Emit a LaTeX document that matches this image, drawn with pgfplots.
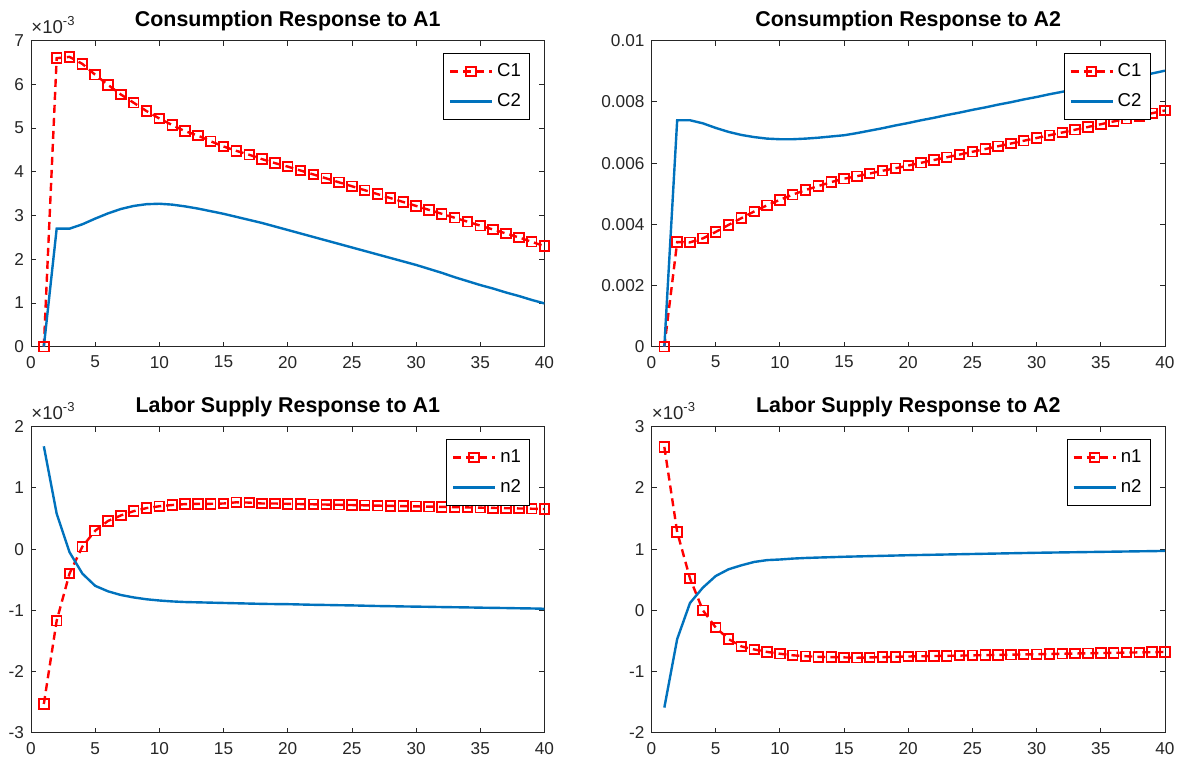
\documentclass[border=0pt]{standalone}
\usepackage{fontspec}
\setmainfont{Liberation Sans}
\usepackage{pgfplots}
\pgfplotsset{compat=1.18}
\definecolor{mblue}{rgb}{0,0.447,0.741}
\definecolor{axgray}{gray}{0.15}
\pgfplotsset{
 mat/.style={
  scale only axis, width=256.75pt, height=153pt,
  xmin=0, xmax=40, xtick={0,5,...,40},
  tick align=inside, major tick length=2.5pt,
  axis line style={axgray, line width=0.4pt},
  every tick/.style={axgray, line width=0.4pt},
  tick label style={font=\fontsize{8.6}{10}\selectfont, text=axgray},
  xticklabel style={yshift=-1.2pt},
  /pgf/number format/assume math mode=true,
  scaled y ticks=false,
  title style={font=\bfseries\fontsize{10.7}{12}\selectfont, at={(0.5,1)}, anchor=south, inner sep=0pt, yshift=-1.3pt},
  legend style={at={(1,1)}, anchor=north east, xshift=-7pt, yshift=-6.2pt, draw=black, line width=0.5pt,
     font=\fontsize{9.3}{11}\selectfont, inner xsep=2.5pt, inner ysep=3pt, row sep=3pt},
  legend cell align=left,
  legend image code/.code={\draw[mark repeat=2,mark phase=2,##1] plot coordinates {(0pt,0pt) (10.5pt,0pt) (21pt,0pt)};},
 },
 sci/.style={extra description/.code={\node[anchor=base west, inner sep=0pt, yshift=3.8pt, font=\fontsize{9.3}{11}\selectfont, text=axgray] at (0,1) {×10\textsuperscript{-3}};}},
 s1/.style={red, line width=1.2pt, dash pattern=on 4pt off 2.5pt, mark=square, mark size=2.4pt, mark options={solid, line width=0.9pt}},
 s2/.style={mblue, line width=1.2pt, no markers},
}
\begin{document}
\begin{tikzpicture}
\useasboundingbox (0,0) rectangle (592.5pt,380.5pt);
% Panel 1
\begin{axis}[mat, sci, at={(15.5pt,207.15pt)}, anchor=south west,
  ymin=0, ymax=7, ytick={0,1,...,7},
  title={Consumption Response to A1}]
\addplot[s1] coordinates {(1,0)(2,6.60)(3,6.63)(4,6.47)(5,6.22)(6,5.99)(7,5.77)(8,5.58)(9,5.39)(10,5.22)
(11,5.07)(12,4.93)(13,4.83)(14,4.70)(15,4.58)(16,4.48)(17,4.39)(18,4.29)(19,4.20)(20,4.12)
(21,4.03)(22,3.94)(23,3.85)(24,3.76)(25,3.67)(26,3.58)(27,3.49)(28,3.40)(29,3.31)(30,3.22)
(31,3.13)(32,3.04)(33,2.95)(34,2.86)(35,2.77)(36,2.68)(37,2.59)(38,2.50)(39,2.40)(40,2.30)};
\addplot[s2] coordinates {(1,0)(2,2.70)(3,2.70)(4,2.80)(5,2.93)(6,3.05)(7,3.15)(8,3.22)(9,3.26)(10,3.27)
(11,3.25)(12,3.21)(13,3.16)(14,3.10)(15,3.04)(16,2.97)(17,2.90)(18,2.83)(19,2.75)(20,2.67)
(21,2.59)(22,2.51)(23,2.43)(24,2.35)(25,2.27)(26,2.19)(27,2.11)(28,2.03)(29,1.95)(30,1.87)
(31,1.78)(32,1.69)(33,1.59)(34,1.50)(35,1.41)(36,1.33)(37,1.24)(38,1.16)(39,1.07)(40,0.99)};
\legend{C1,C2}
\end{axis}
% Panel 2
\begin{axis}[mat, at={(325.75pt,207.15pt)}, anchor=south west,
  ymin=0, ymax=10, ytick={0,2,...,10}, yticklabels={0,0.002,0.004,0.006,0.008,0.01},
  title={Consumption Response to A2}]
\addplot[s1] coordinates {(1,0)(2,3.42)(3,3.41)(4,3.54)(5,3.75)(6,3.98)(7,4.20)(8,4.42)(9,4.62)(10,4.80)
(11,4.97)(12,5.12)(13,5.25)(14,5.38)(15,5.49)(16,5.57)(17,5.66)(18,5.75)(19,5.83)(20,5.92)
(21,6.01)(22,6.10)(23,6.19)(24,6.28)(25,6.37)(26,6.46)(27,6.55)(28,6.64)(29,6.73)(30,6.82)
(31,6.91)(32,7.00)(33,7.09)(34,7.18)(35,7.27)(36,7.36)(37,7.45)(38,7.54)(39,7.63)(40,7.72)};
\addplot[s2] coordinates {(1,0)(2,7.40)(3,7.40)(4,7.30)(5,7.15)(6,7.02)(7,6.92)(8,6.85)(9,6.80)(10,6.78)
(11,6.78)(12,6.80)(13,6.83)(14,6.87)(15,6.91)(16,6.98)(17,7.06)(18,7.14)(19,7.23)(20,7.31)
(21,7.40)(22,7.48)(23,7.57)(24,7.65)(25,7.74)(26,7.82)(27,7.91)(28,7.99)(29,8.08)(30,8.16)
(31,8.25)(32,8.33)(33,8.42)(34,8.50)(35,8.59)(36,8.67)(37,8.76)(38,8.84)(39,8.93)(40,9.02)};
\legend{C1,C2}
\end{axis}
% Panel 3
\begin{axis}[mat, sci, at={(15.5pt,14.15pt)}, anchor=south west,
  ymin=-3, ymax=2, ytick={-3,-2,...,2},
  title={Labor Supply Response to A1}]
\addplot[s1] coordinates {(1,-2.53)(2,-1.17)(3,-0.40)(4,0.04)(5,0.30)(6,0.46)(7,0.55)(8,0.62)(9,0.67)(10,0.70)
(11,0.72)(12,0.735)(13,0.74)(14,0.74)(15,0.745)(16,0.765)(17,0.76)(18,0.745)(19,0.745)(20,0.74)
(21,0.736)(22,0.732)(23,0.728)(24,0.724)(25,0.72)(26,0.715)(27,0.71)(28,0.706)(29,0.702)(30,0.698)
(31,0.694)(32,0.69)(33,0.686)(34,0.681)(35,0.677)(36,0.673)(37,0.668)(38,0.664)(39,0.66)(40,0.655)};
\addplot[s2] coordinates {(1,1.68)(2,0.58)(3,-0.05)(4,-0.40)(5,-0.60)(6,-0.69)(7,-0.75)(8,-0.79)(9,-0.82)(10,-0.84)
(11,-0.855)(12,-0.865)(13,-0.87)(14,-0.875)(15,-0.88)(16,-0.885)(17,-0.89)(18,-0.895)(19,-0.898)(20,-0.90)
(21,-0.905)(22,-0.91)(23,-0.913)(24,-0.917)(25,-0.92)(26,-0.925)(27,-0.93)(28,-0.933)(29,-0.937)(30,-0.94)
(31,-0.943)(32,-0.947)(33,-0.95)(34,-0.953)(35,-0.957)(36,-0.96)(37,-0.963)(38,-0.967)(39,-0.97)(40,-0.975)};
\legend{n1,n2}
\end{axis}
% Panel 4
\begin{axis}[mat, sci, at={(325.75pt,14.15pt)}, anchor=south west,
  ymin=-2, ymax=3, ytick={-2,-1,...,3},
  title={Labor Supply Response to A2}]
\addplot[s1] coordinates {(1,2.67)(2,1.28)(3,0.52)(4,0.0)(5,-0.28)(6,-0.47)(7,-0.59)(8,-0.64)(9,-0.68)(10,-0.71)
(11,-0.735)(12,-0.75)(13,-0.76)(14,-0.765)(15,-0.77)(16,-0.775)(17,-0.77)(18,-0.765)(19,-0.76)(20,-0.755)
(21,-0.751)(22,-0.747)(23,-0.744)(24,-0.74)(25,-0.736)(26,-0.732)(27,-0.729)(28,-0.725)(29,-0.721)(30,-0.718)
(31,-0.714)(32,-0.71)(33,-0.706)(34,-0.702)(35,-0.699)(36,-0.695)(37,-0.691)(38,-0.688)(39,-0.684)(40,-0.68)};
\addplot[s2] coordinates {(1,-1.59)(2,-0.47)(3,0.12)(4,0.37)(5,0.56)(6,0.67)(7,0.735)(8,0.79)(9,0.82)(10,0.83)
(11,0.845)(12,0.855)(13,0.862)(14,0.868)(15,0.875)(16,0.88)(17,0.885)(18,0.89)(19,0.895)(20,0.90)
(21,0.904)(22,0.908)(23,0.912)(24,0.916)(25,0.92)(26,0.924)(27,0.928)(28,0.932)(29,0.936)(30,0.94)
(31,0.943)(32,0.946)(33,0.949)(34,0.952)(35,0.955)(36,0.958)(37,0.961)(38,0.964)(39,0.967)(40,0.97)};
\legend{n1,n2}
\end{axis}
\end{tikzpicture}
\end{document}
